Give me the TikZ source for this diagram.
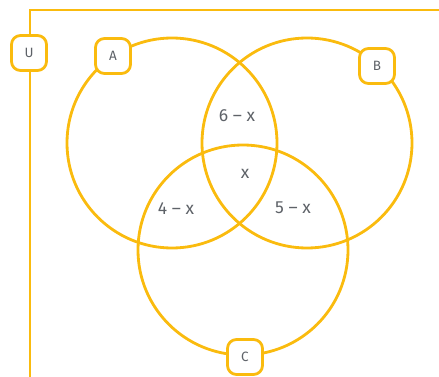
\documentclass[tikz,border=0pt]{standalone}
\usepackage{fontspec}
\setmainfont{Fira Sans}
\usepackage{xcolor}
\usetikzlibrary{positioning}

\definecolor{gold}{HTML}{FABB0E}
\definecolor{txtgray}{HTML}{5E6268}

\begin{document}
\begin{tikzpicture}[
    x=1pt, y=-1pt,
    every node/.style={text=txtgray},
    set/.style={draw=gold, line width=2.8pt},
    tag/.style={rectangle, draw=gold, line width=2.8pt, fill=white, rounded corners=9pt, minimum width=35pt, minimum height=35pt, inner sep=0pt, font=\fontsize{13.5}{15}\selectfont},
    region/.style={font=\fontsize{17.5}{20}\selectfont}
]
\useasboundingbox (0,0) rectangle (439,377);

% universe frame
\coordinate (ubot) at (30,377);
\coordinate (ucorner) at (30,10);
\coordinate (uright) at (439,10);
\draw[set] (ubot) -- (ucorner) -- (uright);

% the three sets
\draw[set] (172,143) circle (105);
\draw[set] (307,143) circle (105);
\draw[set] (243,250) circle (105);

% set labels
\node[tag] (u) at (29,53) {U};
\node[tag] (a) at (113,56) {A};
\node[tag] (b) at (377,66) {B};
\node[tag] (c) at (245,357) {C};

% regions
\node[region] (ab) at (237,116) {6 -- x};
\node[region] (abc) at (245,174) {x};
\node[region] (ac) at (176,209) {4 -- x};
\node[region] (bc) at (293,208) {5 -- x};

\end{tikzpicture}
\end{document}
